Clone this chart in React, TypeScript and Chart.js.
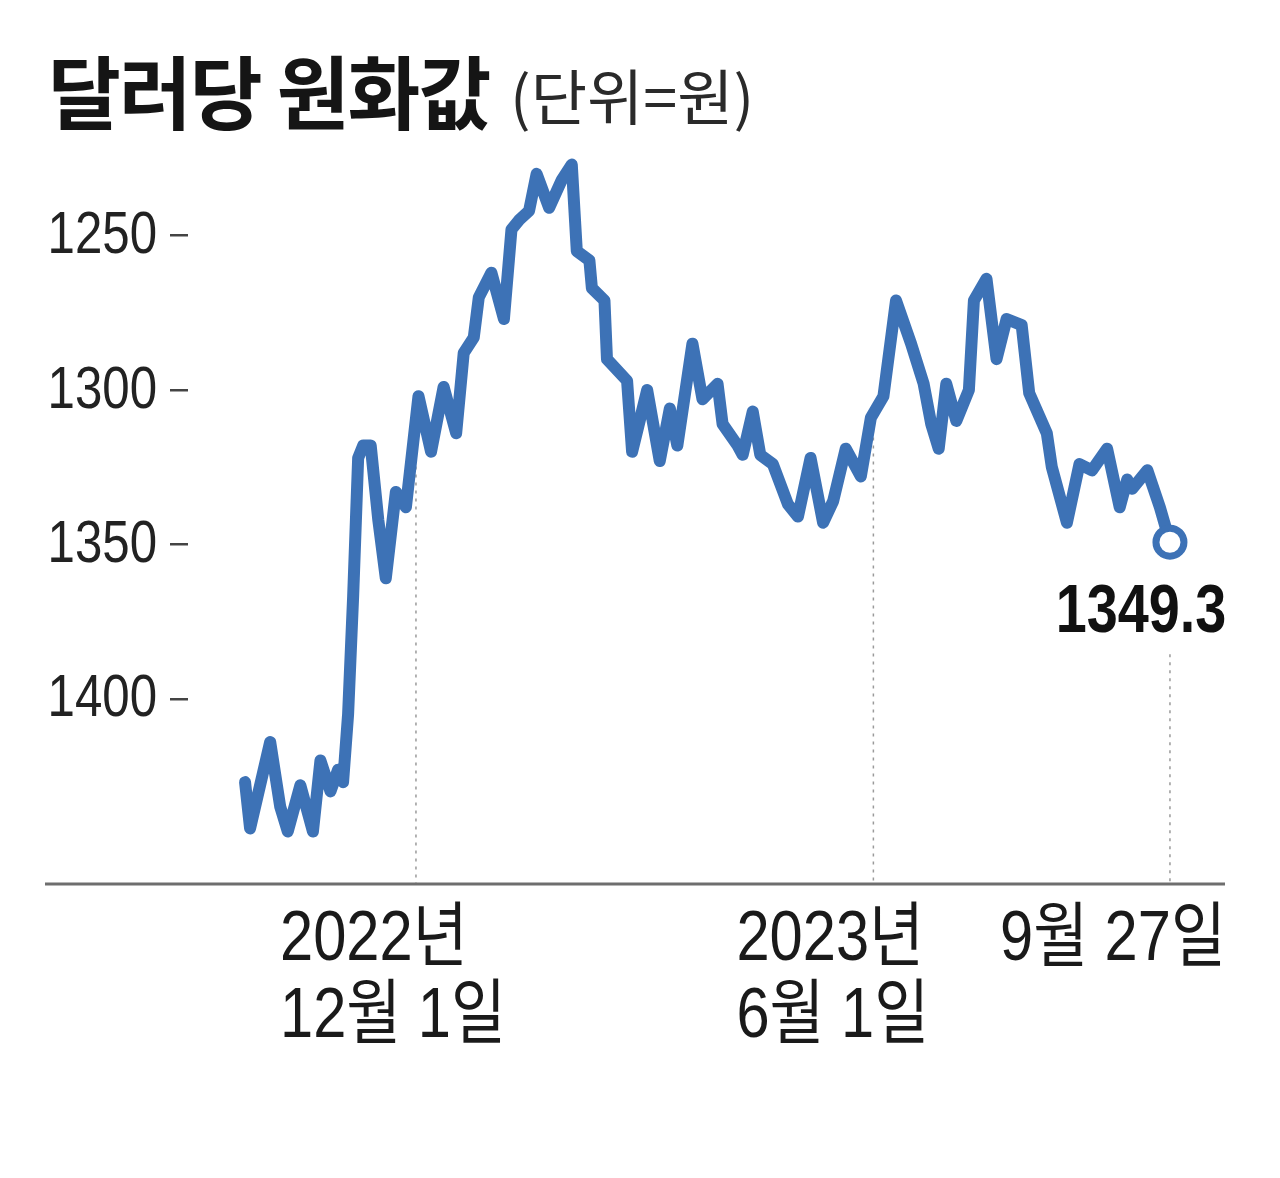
import React, { useEffect, useRef } from "react";
import { Chart, registerables } from "chart.js";

Chart.register(...registerables);

// Days counted from 2022-12-01 (negative = before)
const dayOffsets = [
  -68, -66, -58, -54, -51, -46, -41, -38, -34, -31, -29, -27, -25, -23, -21, -18, -15, -12, -8, -4,
  1, 6, 11, 16, 19, 23, 25, 30, 35, 38, 41, 45, 48, 53, 58, 62,
  64, 69, 70, 75, 76, 84, 86, 92, 97, 101, 104, 110, 114, 120, 122, 128,
  130, 134, 137, 142, 148, 152, 157, 162, 166, 171, 177, 181, 186, 191, 197, 202, 205, 208, 211, 215,
  220, 222, 227, 231, 235, 241, 244, 251, 253, 259, 264,
  269, 275, 280, 283, 285, 291, 296, 300,
];

// Won per dollar
const rates = [
  1427, 1442, 1414, 1435, 1443, 1428, 1443, 1420, 1430, 1423, 1427, 1405, 1367, 1322, 1318, 1318, 1342, 1361, 1333, 1338,
  1302, 1320, 1299, 1314, 1288, 1283, 1270, 1262, 1277, 1248, 1245, 1242, 1230, 1241, 1232, 1227,
  1255, 1258, 1267, 1271, 1290, 1297, 1320, 1300, 1323, 1306, 1318, 1285, 1303, 1298, 1311, 1318,
  1321, 1307, 1321, 1324, 1337, 1341, 1322, 1343, 1336, 1319, 1328, 1309, 1302, 1271, 1285, 1298, 1311, 1319, 1298, 1310,
  1300, 1271, 1264, 1290, 1277, 1279, 1301, 1314, 1325, 1343, 1324,
  1326, 1319, 1338, 1329, 1332, 1326, 1338, 1349.3,
];

const yTicks = [1250, 1300, 1350, 1400];
const markerDays = [0, 182, 300];
const markerLabels = [["2022년", "12월 1일"], ["2023년", "6월 1일"], ["9월 27일"]];
const lastValueLabel = "1349.3";
const titleMain = "달러당 원화값";
const titleUnit = "(단위=원)";

const LINE_BLUE = "#3d72b6";
const FONT = '"Liberation Sans", "Noto Sans CJK KR", sans-serif';
const CONDENSE = 0.82;

function valueAt(day: number): number {
  for (let i = 0; i < dayOffsets.length - 1; i++) {
    const a = dayOffsets[i];
    const b = dayOffsets[i + 1];
    if (day >= a && day <= b) {
      const t = (day - a) / (b - a);
      return rates[i] + (rates[i + 1] - rates[i]) * t;
    }
  }
  return rates[rates.length - 1];
}

function drawCondensed(
  ctx: CanvasRenderingContext2D,
  text: string,
  x: number,
  y: number,
  font: string,
  align: CanvasTextAlign,
  baseline: CanvasTextBaseline,
  sx: number = CONDENSE
) {
  ctx.save();
  ctx.font = font;
  ctx.textAlign = align;
  ctx.textBaseline = baseline;
  ctx.translate(x, y);
  ctx.scale(sx, 1);
  ctx.fillText(text, 0, 0);
  ctx.restore();
}

const annotatePlugin = {
  id: "annotate",
  beforeDatasetsDraw(chart: any) {
    const { ctx, chartArea, scales } = chart;
    const xs = scales.x;
    const ys = scales.y;
    ctx.save();
    // dotted guides
    ctx.setLineDash([3, 5]);
    ctx.strokeStyle = "#9a9a9a";
    ctx.lineWidth = 1.5;
    markerDays.forEach((d, i) => {
      const px = xs.getPixelForValue(d);
      const last = i === markerDays.length - 1;
      const top = last ? ys.getPixelForValue(rates[rates.length - 1]) + 112 : ys.getPixelForValue(valueAt(d));
      ctx.beginPath();
      ctx.moveTo(px, top);
      ctx.lineTo(px, chartArea.bottom);
      ctx.stroke();
    });
    ctx.setLineDash([]);
    // base axis line
    ctx.strokeStyle = "#6e6e6e";
    ctx.lineWidth = 3;
    ctx.beginPath();
    ctx.moveTo(45, chartArea.bottom);
    ctx.lineTo(chartArea.right, chartArea.bottom);
    ctx.stroke();
    ctx.restore();
  },
  afterDatasetsDraw(chart: any) {
    const { ctx, chartArea, scales } = chart;
    const xs = scales.x;
    const ys = scales.y;
    ctx.save();
    // y tick labels
    ctx.fillStyle = "#222";
    ys.ticks.forEach((t: any) => {
      const py = ys.getPixelForValue(t.value);
      drawCondensed(ctx, String(t.value), chartArea.left - 18 - 13, py + 1, `400 60px ${FONT}`, "right", "middle");
    });
    // x marker labels
    ctx.fillStyle = "#1a1a1a";
    const offsets = [-136, -137, -170];
    markerDays.forEach((d, i) => {
      const px = xs.getPixelForValue(d);
      markerLabels[i].forEach((line, j) => {
        drawCondensed(ctx, line, px + offsets[i], chartArea.bottom + 76 + j * 77, `400 71px ${FONT}`, "left", "alphabetic", 0.84);
      });
    });
    // last value label
    const lx = xs.getPixelForValue(dayOffsets[dayOffsets.length - 1]);
    const ly = ys.getPixelForValue(rates[rates.length - 1]);
    ctx.fillStyle = "#111";
    drawCondensed(ctx, lastValueLabel, lx - 29, ly + 90, `700 68px ${FONT}`, "center", "alphabetic");
    ctx.restore();
  },
};

export default function App() {
  const canvasRef = useRef<HTMLCanvasElement | null>(null);

  useEffect(() => {
    if (!canvasRef.current) return;
    const n = rates.length;
    const chart = new Chart(canvasRef.current, {
      type: "line",
      data: {
        datasets: [
          {
            data: dayOffsets.map((d, i) => ({ x: d, y: rates[i] })),
            borderColor: LINE_BLUE,
            borderWidth: 12,
            borderJoinStyle: "round",
            borderCapStyle: "round",
            tension: 0,
            pointRadius: rates.map((_, i) => (i === n - 1 ? 14 : 0)),
            pointBackgroundColor: "#ffffff",
            pointBorderColor: LINE_BLUE,
            pointBorderWidth: 7,
          },
        ],
      },
      options: {
        responsive: false,
        animation: false,
        layout: { padding: { left: 0, right: 55, top: 143, bottom: 294 } },
        plugins: { legend: { display: false }, tooltip: { enabled: false } },
        scales: {
          x: {
            type: "linear",
            min: -90.7,
            max: 321.9,
            display: false,
          },
          y: {
            reverse: true,
            min: 1220,
            max: 1460,
            afterFit: (s: any) => {
              s.width = 188;
            },
            afterBuildTicks: (s: any) => {
              s.ticks = yTicks.map((v) => ({ value: v }));
            },
            grid: { drawOnChartArea: false, drawTicks: true, tickLength: 18, color: "#444", lineWidth: 2.5 },
            border: { display: false },
            ticks: { display: false },
          },
        },
      },
      plugins: [annotatePlugin],
    } as any);
    return () => chart.destroy();
  }, []);

  return (
    <div style={{ position: "fixed", left: 0, top: 0, width: 1280, height: 1178, background: "#fff", overflow: "hidden" }}>
      <canvas ref={canvasRef} width={1280} height={1178} style={{ position: "absolute", left: 0, top: 0 }} />
      <div
        style={{
          position: "absolute",
          left: 48,
          top: 48,
          fontFamily: '"Noto Sans CJK KR", sans-serif',
          fontWeight: 700,
          fontSize: 80,
          lineHeight: 1,
          color: "#151515",
          whiteSpace: "nowrap",
          transform: "scaleX(0.99)",
          transformOrigin: "left top",
          letterSpacing: -2,
        }}
      >
        {titleMain}
      </div>
      <div
        style={{
          position: "absolute",
          left: 510,
          top: 64,
          fontFamily: '"Noto Sans CJK KR", sans-serif',
          fontWeight: 400,
          fontSize: 60,
          lineHeight: 1,
          color: "#2a2a2a",
          whiteSpace: "nowrap",
          transform: "scaleX(1.02)",
          transformOrigin: "left top",
        }}
      >
        {titleUnit}
      </div>
    </div>
  );
}
